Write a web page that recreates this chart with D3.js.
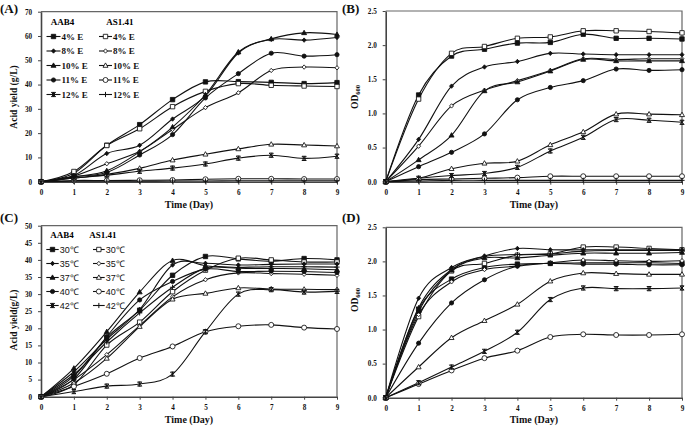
<!DOCTYPE html>
<html><head><meta charset="utf-8">
<script src="https://cdn.jsdelivr.net/npm/d3@7"></script>
<style>body{margin:0;background:#fff}svg{display:block}</style>
</head><body><svg id="c" width="685" height="428"></svg>
<script>
const days = [0,1,2,3,4,5,6,7,8,9];

// Panel A: acid yield (g/L) vs ethanol
const A_AAB4_4  = [0,3.5,15,23.5,33.8,41.1,41.2,40.9,40.4,40.8];
const A_AS141_4 = [0,4.2,14.9,21.8,30.9,37.2,40.4,39.7,39.4,39.2];
const A_AAB4_8  = [0,2.5,11.6,15,25.8,35.3,53,58.6,58.3,59.4];
const A_AS141_8 = [0,2.3,7.4,12.5,21.5,30.5,36.6,45.8,47.2,46.9];
const A_AAB4_10 = [0,2,4.5,12.3,22.5,35.8,53.4,58.8,61.3,60.6];
const A_AS141_10= [0,1.5,3,5.5,8.9,11.3,13.5,15.4,15.1,14.7];
const A_AAB4_11 = [0,2,3.8,11,19.4,34.5,44.5,52.9,51.7,52.3];
const A_AS141_11= [0,0.5,0.5,0.6,0.7,1,1.2,1.2,1.1,1.1];
const A_AAB4_12 = [0,1.5,2.7,4.3,5.6,7.3,9.7,10.9,9.6,10.5];
const A_AS141_12= [0,0.2,0.2,0.2,0.3,0.3,0.4,0.4,0.4,0.4];

// Panel B: OD600 vs ethanol
const B_AAB4_4  = [0,1.27,1.84,1.94,2.03,2.04,2.16,2.10,2.10,2.09];
const B_AS141_4 = [0,1.21,1.88,1.98,2.10,2.12,2.21,2.21,2.20,2.18];
const B_AAB4_8  = [0,0.62,1.40,1.68,1.76,1.88,1.87,1.86,1.86,1.86];
const B_AS141_8 = [0,0.52,1.11,1.34,1.48,1.63,1.80,1.79,1.80,1.80];
const B_AAB4_10 = [0,0.32,0.68,1.33,1.46,1.62,1.79,1.77,1.77,1.77];
const B_AS141_10= [0,0.05,0.19,0.27,0.30,0.54,0.73,0.99,0.99,0.98];
const B_AAB4_11 = [0,0.22,0.43,0.70,1.20,1.38,1.48,1.65,1.63,1.64];
const B_AS141_11= [0,0.03,0.04,0.05,0.06,0.08,0.08,0.08,0.08,0.08];
const B_AAB4_12 = [0,0.05,0.09,0.12,0.21,0.45,0.65,0.91,0.90,0.87];
const B_AS141_12= [0,0.01,0.02,0.02,0.02,0.02,0.02,0.02,0.02,0.02];

// Panel C: acid yield (g/L) vs temperature
const C_AAB4_30 = [0,6,17.3,25.3,35.5,41,40.3,39.6,40.4,40];
const C_AS141_30= [0,3.5,15.1,21.8,30.7,37,40.5,40,39.4,39.4];
const C_AAB4_35 = [0,7.3,16.8,25.5,38.5,39,38.5,38.7,38.8,38.8];
const C_AS141_35= [0,5,12.3,20.8,29.2,34.2,36.2,36,35.8,35.5];
const C_AAB4_37 = [0,8.3,19,30.6,39.8,38.3,37.6,37.5,37.4,37.1];
const C_AS141_37= [0,4,11.2,20.5,28.5,30.2,31.8,31.5,31.4,31.3];
const C_AAB4_40 = [0,5.2,17.6,28.3,33.7,37.3,36.6,36.7,36.6,36.3];
const C_AS141_40= [0,3,6.7,11.3,14.7,19,20.6,21,20.2,19.8];
const C_AAB4_42 = [0,1.5,3.1,3.7,6.6,19,30,31.3,30.6,30.8];
const C_AS141_42= [0,6.5,16,24.5,32,37.6,37.8,38,38,37.9];

// Panel D: OD600 vs temperature
const D_AAB4_30 = [0,1.30,1.74,1.91,1.96,1.97,1.98,1.98,1.98,1.97];
const D_AS141_30= [0,1.19,1.86,1.97,2.09,2.11,2.21,2.21,2.19,2.17];
const D_AAB4_35 = [0,1.46,1.91,2.08,2.19,2.17,2.17,2.17,2.17,2.17];
const D_AS141_35= [0,1.22,1.70,1.88,1.93,1.98,2.02,2.01,2.00,2.01];
const D_AAB4_37 = [0,1.27,1.87,2.05,2.05,2.09,2.12,2.12,2.12,2.13];
const D_AS141_37= [0,0.45,0.88,1.13,1.37,1.71,1.83,1.82,1.81,1.81];
const D_AAB4_40 = [0,0.80,1.39,1.73,1.93,1.97,1.96,1.96,1.95,1.95];
const D_AS141_40= [0,0.20,0.40,0.58,0.69,0.89,0.93,0.92,0.92,0.93];
const D_AAB4_42 = [0,0.22,0.45,0.68,0.96,1.44,1.61,1.60,1.60,1.61];
const D_AS141_42= [0,1.32,1.88,2.07,2.10,2.11,2.15,2.16,2.16,2.16];

const ethLabels = ["4% E","8% E","10% E","11% E","12% E"];
const tempLabels = ["30\u2103","35\u2103","37\u2103","40\u2103","42\u2103"];
const markersAAB4 = ["sqF","diaF","triF","cirF","star"];
const markersAS141 = ["sqO","diaO","triO","cirO","plus"];
const yTicksAcidA = [0,10,20,30,40,50,60,70];
const yTicksAcidC = [0,5,10,15,20,25,30,35,40,45,50];
const yTicksOD = [0,0.5,1.0,1.5,2.0,2.5];

const svg = d3.select("#c");
const serif = "'Liberation Serif','Times New Roman',serif";

function markerPath(t){
  switch(t){
    case "sqF": case "sqO": return "M-2.2,-2.2H2.2V2.2H-2.2Z";
    case "diaF": case "diaO": return "M0,-2.2L2,0L0,2.2L-2,0Z";
    case "triF": case "triO": return "M0,-2.6L2.5,1.8H-2.5Z";
    case "cirF": return "M2.1,0A2.1,2.1 0 1,1 -2.1,0A2.1,2.1 0 1,1 2.1,0Z";
    case "cirO": return "M2.5,0A2.5,2.5 0 1,1 -2.5,0A2.5,2.5 0 1,1 2.5,0Z";
    case "star": return "M-2.1,-2.1L2.1,2.1M-2.1,2.1L2.1,-2.1M0,-2.4V2.4M-2.1,-2.1H2.1M-2.1,2.1H2.1";
    case "plus": return "M0,-2.6V2.6M-2.6,0H2.6";
  }
}
function drawMarker(g, t, x, y){
  const filled = /F$/.test(t);
  const lineOnly = (t==="star"||t==="plus");
  g.append("path").attr("d", markerPath(t))
    .attr("transform", `translate(${x},${y})`)
    .attr("fill", lineOnly ? "none" : (filled ? "#111" : "#fff"))
    .attr("stroke", "#111").attr("stroke-width", lineOnly?1:0.85);
}

function panel(cfg){
  const x = d3.scaleLinear().domain([0,9]).range([cfg.x0,cfg.x1]);
  const y = d3.scaleLinear().domain([0,cfg.ymax]).range([cfg.yb,cfg.yt]);
  const g = svg.append("g");
  g.append("path").attr("d",`M${cfg.x0},${cfg.yt}H${cfg.x1}V${cfg.yb}`)
    .attr("fill","none").attr("stroke","#666").attr("stroke-width",1.2);
  const ax = g.append("g").attr("transform",`translate(0,${cfg.yb})`)
    .call(d3.axisBottom(x).tickValues(days).tickSize(3).tickSizeOuter(0).tickFormat(d3.format("d")));
  const ay = g.append("g").attr("transform",`translate(${cfg.x0},0)`)
    .call(d3.axisLeft(y).tickValues(cfg.yticks).tickSize(3).tickSizeOuter(0).tickFormat(cfg.fmt));
  [ax,ay].forEach(a=>{
    a.select(".domain").attr("stroke","#444").attr("stroke-width",1.6);
    a.selectAll(".tick line").attr("stroke","#444").attr("stroke-width",1);
    a.selectAll(".tick text").attr("font-family",serif).attr("font-weight","bold")
      .attr("font-size",7.2).attr("fill","#111");
  });
  ax.selectAll(".tick text").attr("dy","0.95em");
  ay.selectAll(".tick text").attr("dx","-0.4em");
  const line = d3.line().x((d,i)=>x(days[i])).y(d=>y(d)).curve(d3.curveCardinal.tension(0));
  cfg.series.forEach(s=>{
    g.append("path").attr("d",line(s.v)).attr("fill","none").attr("stroke","#111").attr("stroke-width",1.1);
  });
  cfg.series.forEach(s=>{
    s.v.forEach((v,i)=>drawMarker(g,s.m,x(days[i]),y(v)));
  });
  g.append("text").attr("x",(cfg.x0+cfg.x1)/2).attr("y",cfg.xtY).attr("text-anchor","middle")
    .attr("font-family",serif).attr("font-weight","bold").attr("font-size",10).attr("fill","#111").text("Time (Day)");
  const yt = g.append("text").attr("transform",`translate(${cfg.ytX},${cfg.ytY}) rotate(-90)`)
    .attr("text-anchor","middle").attr("font-family",serif).attr("font-weight","bold").attr("font-size",9.5).attr("fill","#111");
  if(cfg.od){
    yt.append("tspan").text("OD");
    yt.append("tspan").attr("font-size",6.5).attr("dy",2).text("600");
  } else yt.text(cfg.ytitle);
  g.append("text").attr("x",cfg.lx).attr("y",cfg.ly).attr("font-family",serif).attr("font-weight","bold")
    .attr("font-size",13).attr("fill","#111").text(cfg.label);
  if(cfg.legend){
    const L = cfg.legend;
    g.append("text").attr("x",L.h1).attr("y",L.hy).attr("text-anchor","middle").attr("dy","0.35em")
      .attr("font-family",serif).attr("font-weight","bold").attr("font-size",9).text("AAB4");
    g.append("text").attr("x",L.h2).attr("y",L.hy).attr("text-anchor","middle").attr("dy","0.35em")
      .attr("font-family",serif).attr("font-weight","bold").attr("font-size",9).text("AS1.41");
    L.labels.forEach((lab,i)=>{
      const yy = L.y0 + i*L.dy;
      [[L.c1, markersAAB4[i]],[L.c2, markersAS141[i]]].forEach(([cx,m])=>{
        g.append("line").attr("x1",cx[0]).attr("x2",cx[1]).attr("y1",yy).attr("y2",yy)
          .attr("stroke","#111").attr("stroke-width",1.1);
        drawMarker(g,m,(cx[0]+cx[1])/2,yy);
        g.append("text").attr("x",cx[1]+1).attr("y",yy).attr("dy","0.35em")
          .attr("font-family",L.font).attr("font-weight",L.weight).attr("font-size",L.fs).attr("fill","#111").text(lab);
      });
    });
  }
}

panel({x0:41,x1:337,yt:11.7,yb:181.7,ymax:70,yticks:yTicksAcidA,fmt:d3.format("d"),
  series:[{v:A_AAB4_4,m:"sqF"},{v:A_AS141_4,m:"sqO"},{v:A_AAB4_8,m:"diaF"},{v:A_AS141_8,m:"diaO"},
    {v:A_AAB4_10,m:"triF"},{v:A_AS141_10,m:"triO"},{v:A_AAB4_11,m:"cirF"},{v:A_AS141_11,m:"cirO"},
    {v:A_AAB4_12,m:"star"},{v:A_AS141_12,m:"plus"}],
  xtY:208,ytX:17,ytY:97,ytitle:"Acid yield (g/L)",lx:0,ly:13,label:"(A)",
  legend:{h1:62.5,h2:120,hy:21.7,y0:36.5,dy:14.5,c1:[46.5,60.5],c2:[99,112],labels:ethLabels,font:serif,weight:"bold",fs:9}
});
panel({x0:385.7,x1:682,yt:11,yb:181.7,ymax:2.5,yticks:yTicksOD,fmt:d3.format(".1f"),
  series:[{v:B_AAB4_4,m:"sqF"},{v:B_AS141_4,m:"sqO"},{v:B_AAB4_8,m:"diaF"},{v:B_AS141_8,m:"diaO"},
    {v:B_AAB4_10,m:"triF"},{v:B_AS141_10,m:"triO"},{v:B_AAB4_11,m:"cirF"},{v:B_AS141_11,m:"cirO"},
    {v:B_AAB4_12,m:"star"},{v:B_AS141_12,m:"plus"}],
  xtY:208,ytX:358,ytY:97,od:true,lx:342,ly:13,label:"(B)"
});
panel({x0:41,x1:337,yt:225.7,yb:396.7,ymax:50,yticks:yTicksAcidC,fmt:d3.format("d"),
  series:[{v:C_AAB4_30,m:"sqF"},{v:C_AS141_30,m:"sqO"},{v:C_AAB4_35,m:"diaF"},{v:C_AS141_35,m:"diaO"},
    {v:C_AAB4_37,m:"triF"},{v:C_AS141_37,m:"triO"},{v:C_AAB4_40,m:"cirF"},{v:C_AS141_40,m:"cirO"},
    {v:C_AAB4_42,m:"star"},{v:C_AS141_42,m:"plus"}],
  xtY:423,ytX:17,ytY:320,ytitle:"Acid yield(g/L)",lx:0,ly:222,label:"(C)",
  legend:{h1:62,h2:103,hy:235,y0:249.5,dy:14,c1:[46.3,58.7],c2:[93,104.7],labels:tempLabels,font:"'Liberation Sans',Arial,sans-serif",weight:"normal",fs:9}
});
panel({x0:385.7,x1:682,yt:227.3,yb:397.7,ymax:2.5,yticks:yTicksOD,fmt:d3.format(".1f"),
  series:[{v:D_AAB4_30,m:"sqF"},{v:D_AS141_30,m:"sqO"},{v:D_AAB4_35,m:"diaF"},{v:D_AS141_35,m:"diaO"},
    {v:D_AAB4_37,m:"triF"},{v:D_AS141_37,m:"triO"},{v:D_AAB4_40,m:"cirF"},{v:D_AS141_40,m:"cirO"},
    {v:D_AAB4_42,m:"star"},{v:D_AS141_42,m:"plus"}],
  xtY:423,ytX:358,ytY:300,od:true,lx:342,ly:222,label:"(D)"
});
</script></body></html>
